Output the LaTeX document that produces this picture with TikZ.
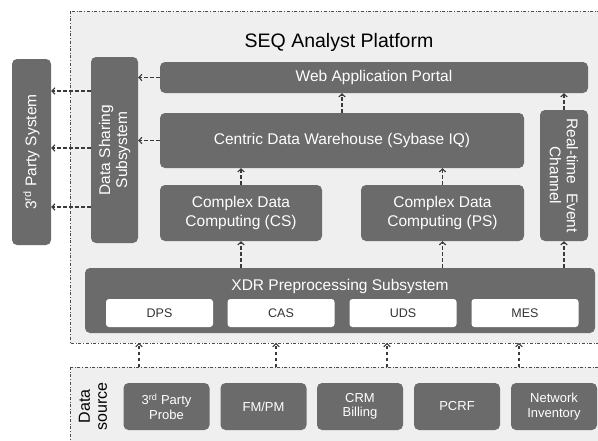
\documentclass[tikz,border=0pt]{standalone}
\usepackage{fontspec}
\setmainfont{Liberation Sans}
\usetikzlibrary{arrows.meta}

\definecolor{boxgray}{HTML}{6B6B6B}
\definecolor{platgray}{HTML}{EFEFEF}
\definecolor{linegray}{HTML}{3A3A3A}

\tikzset{
  blk/.style={fill=boxgray, rounded corners=5pt, text=white, align=center,
    inner sep=0pt, font=\fontsize{15.5}{19.5}\selectfont},
  sub/.style={fill=white, rounded corners=3pt, inner sep=0pt, text=black!80,
    minimum width=107pt, minimum height=28pt, font=\fontsize{12.5}{14}\selectfont},
  src/.style={blk, minimum width=86pt, minimum height=47pt,
    font=\fontsize{13}{14.5}\selectfont},
  lbl/.style={text=white, align=center, inner sep=0pt,
    font=\fontsize{15.5}{17}\selectfont},
  zone/.style={draw=black!70, dash dot, line width=0.6pt, fill=platgray},
  dep/.style={draw=linegray, line width=1.1pt, dash pattern=on 3.5pt off 2.5pt,
    -{Straight Barb[length=3pt,width=6.5pt]}}
}

\begin{document}
\begin{tikzpicture}[x=1pt, y=-1pt]
  %%%%% frame %%%%%
  \useasboundingbox (0,0) rectangle (598,440);
  \clip (0,0) rectangle (598,440);

  %%%%% zones %%%%%
  \draw[zone] (70,11) rectangle (610,343);
  \draw[zone] (70,367) rectangle (610,450);
  \node[font=\fontsize{19.5}{21}\selectfont] (title) at (339,42) {SEQ Analyst Platform};
  \coordinate (plat) at (340,343);
  \coordinate (srcz) at (340,367);

  %%%%% platform blocks %%%%%
  \node[blk, minimum width=428pt, minimum height=31pt] (portal) at (374,77.5) {Web Application Portal};
  \node[blk, minimum width=364pt, minimum height=55pt] (cdw) at (342,140.5) {Centric Data Warehouse (Sybase IQ)};
  \node[blk, minimum width=162pt, minimum height=56pt] (cs) at (241,213) {Complex Data\\Computing (CS)};
  \node[blk, minimum width=163pt, minimum height=56pt] (ps) at (442.5,213) {Complex Data\\Computing (PS)};
  \node[blk, minimum width=47pt, minimum height=186pt,
    label={[lbl, rotate=90]center:Data Sharing\\Subsystem}] (dss) at (114.5,150) {};
  \node[blk, minimum width=48pt, minimum height=131pt,
    label={[lbl, rotate=-90]center:Real-time~~Event\\Channel}] (rtec) at (564,175.5) {};
  \node[blk, minimum width=39pt, minimum height=186pt,
    label={[lbl, rotate=90]center:3\textsuperscript{rd} Party System}] (third) at (31.5,152) {};

  %%%%% preprocessing %%%%%
  \node[blk, minimum width=510pt, minimum height=65pt] (xdr) at (340,300.5) {};
  \node[text=white, font=\fontsize{15.5}{17}\selectfont] (xdrt) at (340,286) {XDR Preprocessing Subsystem};
  \node[sub] (dps) at (159.5,313) {DPS};
  \node[sub] (cas) at (281,313) {CAS};
  \node[sub] (uds) at (403,313) {UDS};
  \node[sub] (mes) at (525,313) {MES};

  %%%%% data sources %%%%%
  \node[align=center, rotate=90, font=\fontsize{16}{17}\selectfont] (dsrc) at (93,406.5) {Data\\source};
  \node[src] (probe) at (166.5,406.5) {3\textsuperscript{rd} Party\\Probe};
  \node[src] (fmpm) at (263.5,406.5) {FM/PM};
  \node[src] (crm) at (360,406.5) {CRM\\Billing};
  \node[src] (pcrf) at (457,406.5) {PCRF};
  \node[src] (inv) at (554,406.5) {Network\\Inventory};

  %%%%% flows %%%%%
  \draw[dep] (portal.west) -- (portal.west -| dss.east);
  \draw[dep] (cdw.west) -- (cdw.west -| dss.east);
  \foreach \y in {91,148,207}
    \draw[dep] (dss.west |- 0,\y) -- (third.east |- 0,\y);
  \draw[dep] (cdw.north) -- (cdw.north |- portal.south);
  \draw[dep] (rtec.north) -- (rtec.north |- portal.south);
  \draw[dep] (cs.north) -- (cs.north |- cdw.south);
  \draw[dep] (ps.north) -- (ps.north |- cdw.south);
  \draw[dep] (xdr.north -| cs) -- (cs.south);
  \draw[dep] (xdr.north -| ps) -- (ps.south);
  \draw[dep] (xdr.north -| rtec) -- (rtec.south);
  \foreach \x in {139,276,387,519}
    \draw[dep] (srcz -| \x,0) -- (plat -| \x,0);
\end{tikzpicture}
\end{document}
